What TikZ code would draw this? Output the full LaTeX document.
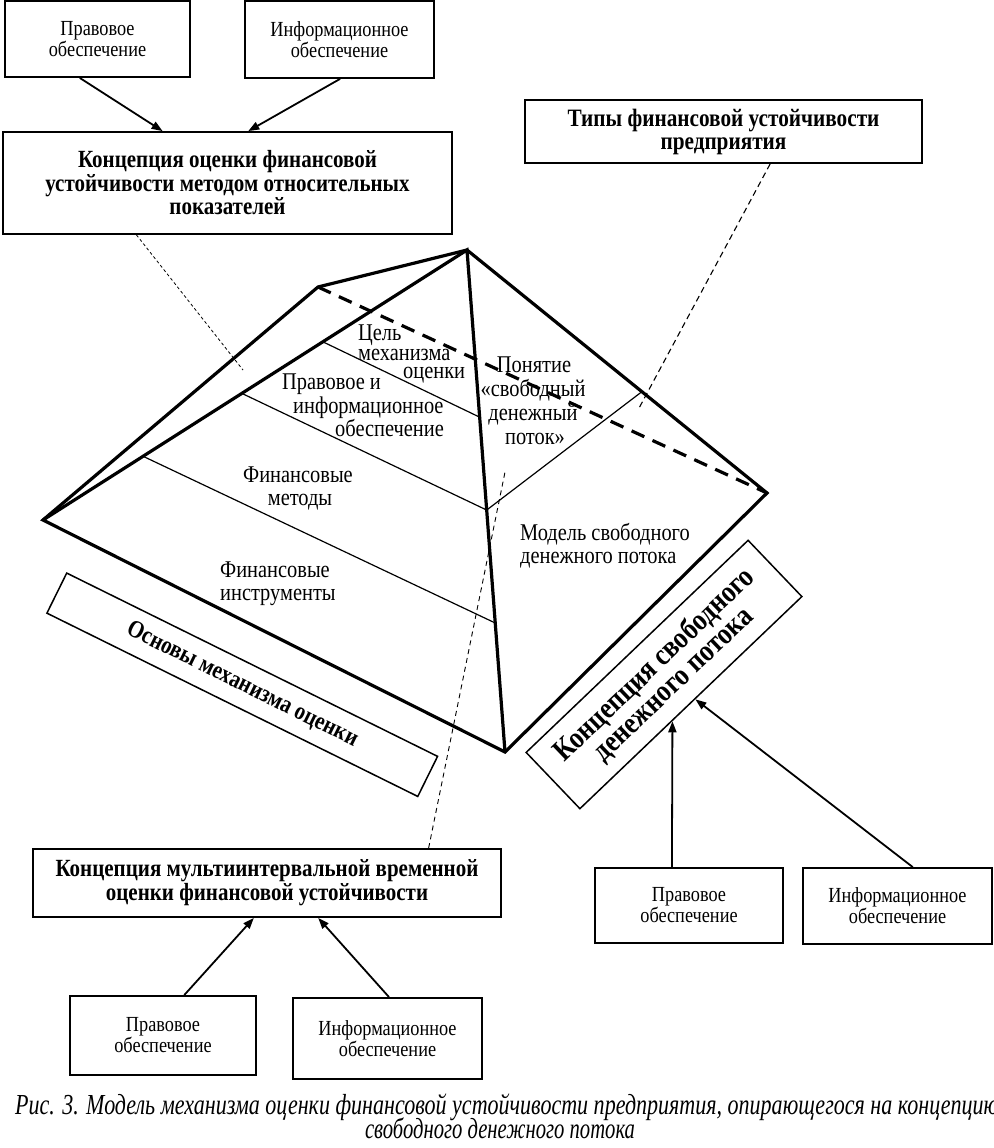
\documentclass[tikz,border=0pt]{standalone}
\usepackage{fontspec}
\setmainfont{Liberation Serif}[FakeStretch=0.85]
\usepackage{graphicx}
\usetikzlibrary{arrows.meta,calc}
\begin{document}
\begin{tikzpicture}[x=1pt,y=-1pt,
  sbox/.style={draw, line width=1.8pt, inner sep=0pt, align=center, font=\fontsize{21.5}{21}\selectfont},
  hbox/.style={draw, line width=1.8pt, inner sep=0pt, align=center, font=\fontsize{24.7}{23.5}\selectfont\bfseries},
  rbox/.style={draw, line width=1.5pt, inner sep=0pt, align=center, font=\fontsize{24.7}{24}\selectfont\bfseries},
  lbl/.style={inner sep=0pt, font=\fontsize{24}{23.5}\selectfont},
  pyredge/.style={line width=3.2pt},
  pyrthin/.style={line width=1.2pt},
  conarrow/.style={line width=1.8pt, -{Triangle[length=11pt,width=8pt]}},
  leader/.style={line width=0.9pt, dash pattern=on 4pt off 3pt},
]
\useasboundingbox (0,0) rectangle (993,1148);

% ---- top boxes
\node[sbox, minimum width=185, minimum height=76] (p1) at (97.5,39) {Правовое\\обеспечение};
\node[sbox, minimum width=189, minimum height=77] (i1) at (339.5,39.5) {Информационное\\обеспечение};
\node[hbox, minimum width=449, minimum height=102] (c1) at (227.5,183) {Концепция оценки финансовой\\устойчивости методом относительных\\показателей};
\node[hbox, font=\fontsize{25}{23}\selectfont\bfseries, minimum width=397, minimum height=63] (t1) at (723.5,131.5) {Типы финансовой устойчивости\\предприятия};

\draw[conarrow] ($(p1.south west)!0.405!(p1.south east)$) -- ($(c1.north west)!0.356!(c1.north east)$);
\draw[conarrow] ($(i1.south west)!0.503!(i1.south east)$) -- ($(c1.north west)!0.546!(c1.north east)$);

% ---- pyramid
\coordinate (A) at (467,250);
\coordinate (B) at (318,287);
\coordinate (L) at (43,520);
\coordinate (R) at (767,493);
\coordinate (F) at (505,752);

% labels on faces
\node[lbl, anchor=base west] (q1) at (358,340) {Цель};
\node[lbl, anchor=base west] (q2) at (358,360) {механизма};
\node[lbl, anchor=base west] (q3) at (403,378) {оценки};
\node[lbl, anchor=base west] (r1) at (282,389) {Правовое и};
\node[lbl, anchor=base west] (r2) at (293,413) {информационное};
\node[lbl, anchor=base west] (r3) at (335,436) {обеспечение};
\node[lbl, anchor=base] (s1) at (298,482) {Финансовые};
\node[lbl, anchor=base] (s2) at (300,505) {методы};
\node[lbl, anchor=base west] (u1) at (220,577) {Финансовые};
\node[lbl, anchor=base west] (u2) at (220,600) {инструменты};
\node[lbl, anchor=base] (v1) at (534,372) {Понятие};
\node[lbl, anchor=base] (v2) at (533,396) {«свободный};
\node[lbl, anchor=base] (v3) at (533,420) {денежный};
\node[lbl, anchor=base] (v4) at (535,444) {поток»};
\node[lbl, anchor=base west] (w1) at (520,540) {Модель свободного};
\node[lbl, anchor=base west] (w2) at (520,563) {денежного потока};

\draw[pyredge, line join=miter] (L)--(B)--(A)--(R)--(F)--cycle;
\draw[pyredge] (L)--(A)--(F);
\draw[pyredge, dash pattern=on 14pt off 9pt] (B)--(R);
\draw[pyrthin] ($(L)!0.66!(A)$) -- ($(A)!0.333!(F)$);
\draw[pyrthin] ($(L)!0.469!(A)$) -- ($(A)!0.518!(F)$) -- ($(A)!0.583!(R)$);
\draw[pyrthin] ($(L)!0.236!(A)$) -- ($(A)!0.743!(F)$);

% ---- rotated boxes
\node[rbox, rotate=-26.3, minimum width=413.7, minimum height=44.7] (osn) at (242.25,684.75) {Основы механизма оценки};
\node[rbox, font=\fontsize{30.5}{27}\selectfont\bfseries, rotate=43.7, minimum width=307, minimum height=77.8] (k2) at (664,674.5) {Концепция свободного\\денежного потока};

% ---- bottom boxes
\node[hbox, font=\fontsize{24.7}{24}\selectfont\bfseries, minimum width=468, minimum height=68] (m1) at (267,883) {Концепция мультиинтервальной временной\\оценки финансовой устойчивости};
\node[sbox, minimum width=186, minimum height=79] (p3) at (163,1035.5) {Правовое\\обеспечение};
\node[sbox, minimum width=189, minimum height=81] (i3) at (387.5,1038.5) {Информационное\\обеспечение};
\node[sbox, minimum width=188, minimum height=75] (p2) at (689,905.5) {Правовое\\обеспечение};
\node[sbox, minimum width=189, minimum height=76] (i2) at (897.5,906) {Информационное\\обеспечение};

\draw[conarrow] ($(p3.north west)!0.613!(p3.north east)$) -- ($(m1.south west)!0.472!(m1.south east)$);
\draw[conarrow] ($(i3.north west)!0.508!(i3.north east)$) -- ($(m1.south west)!0.609!(m1.south east)$);
\draw[conarrow] ($(p2.north west)!0.41!(p2.north east)$) -- ($(k2.south west)!0.415!(k2.south east)$);
\draw[conarrow] ($(i2.north west)!0.58!(i2.north east)$) -- ($(k2.south west)!0.518!(k2.south east)$);

% ---- leaders
\coordinate (d1) at (243,370);
\coordinate (d2) at (638,410);
\coordinate (d3) at (505,472);
\draw[leader, line width=0.8pt, dash pattern=on 3pt off 2.5pt] ($(c1.south west)!0.298!(c1.south east)$) -- (d1);
\draw[leader, line width=1.1pt, dash pattern=on 6pt off 4pt] ($(t1.south west)!0.617!(t1.south east)$) -- (d2);
\draw[leader, dash pattern=on 5pt off 4pt] ($(m1.north west)!0.844!(m1.north east)$) -- (d3);

% ---- caption
\node[anchor=base west, inner sep=0pt] (cap1) at (15,1114) {\resizebox{984pt}{\height}{\fontsize{29}{29}\selectfont\itshape Рис. 3. Модель механизма оценки финансовой устойчивости предприятия, опирающегося на концепцию}};
\node[anchor=base, inner sep=0pt] (cap2) at (500,1138) {\resizebox{270pt}{\height}{\fontsize{29}{29}\selectfont\itshape свободного денежного потока}};
\end{tikzpicture}
\end{document}
